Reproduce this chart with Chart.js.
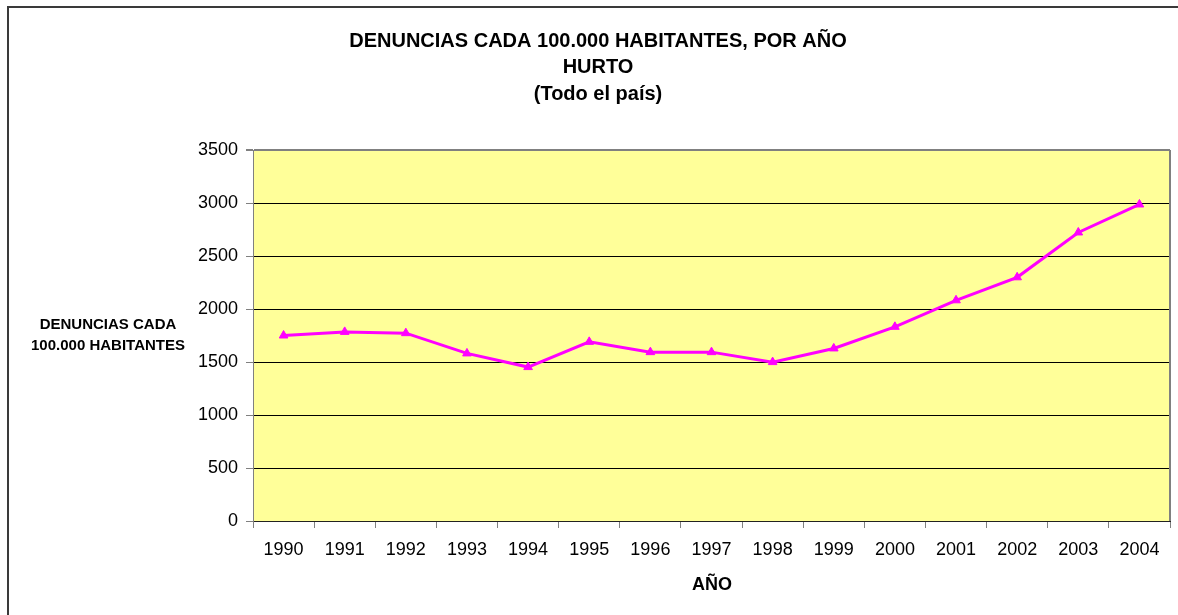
<!DOCTYPE html>
<html>
<head>
<meta charset="utf-8">
<script src="https://cdn.jsdelivr.net/npm/chart.js@4.4.1/dist/chart.umd.min.js"></script>
<style>
  html, body { margin: 0; padding: 0; background: #fff; }
  #wrap { width: 1178px; height: 615px; position: relative; }
</style>
</head>
<body>
<div id="wrap"><canvas id="chart" width="1178" height="615"></canvas></div>
<script>
// data
const years = ['1990', '1991', '1992', '1993', '1994', '1995', '1996', '1997',
  '1998', '1999', '2000', '2001', '2002', '2003', '2004'];
const denuncias = [1750, 1784, 1772, 1581, 1452, 1690, 1593, 1593,
  1499, 1628, 1832, 2082, 2299, 2722, 2986];
const titleLines = ['DENUNCIAS CADA 100.000 HABITANTES, POR AÑO', 'HURTO', '(Todo el país)'];
const yTitleLines = ['DENUNCIAS CADA', '100.000 HABITANTES'];
const xTitle = 'AÑO';

const FONT = "'Liberation Sans', Arial, sans-serif";

// yellow plot background, frame, titles
const decorations = {
  id: 'decorations',
  beforeDraw(chart) {
    const { ctx, chartArea: a } = chart;
    ctx.save();
    ctx.fillStyle = '#FFFF99';
    ctx.fillRect(a.left, a.top, a.right - a.left, a.bottom - a.top);
    ctx.restore();
  },
  afterDraw(chart) {
    const { ctx, chartArea: a } = chart;
    ctx.save();
    // right border of plot
    ctx.strokeStyle = '#808080';
    ctx.lineWidth = 2;
    ctx.beginPath();
    ctx.moveTo(a.right, a.top);
    ctx.lineTo(a.right, a.bottom);
    ctx.stroke();

    // outer frame (only left/top visible in picture)
    ctx.strokeStyle = '#3a3a3a';
    ctx.lineWidth = 2;
    ctx.beginPath();
    ctx.moveTo(8, 620);
    ctx.lineTo(8, 7);
    ctx.lineTo(1180, 7);
    ctx.stroke();

    ctx.fillStyle = '#000';
    ctx.textAlign = 'center';
    ctx.textBaseline = 'alphabetic';
    ctx.font = 'bold 20px ' + FONT;
    const base = [47, 73, 100];
    titleLines.forEach((t, i) => ctx.fillText(t, 598, base[i]));

    ctx.font = 'bold 15px ' + FONT;
    ctx.fillText(yTitleLines[0], 108, 329);
    ctx.fillText(yTitleLines[1], 108, 350);

    ctx.font = 'bold 18px ' + FONT;
    ctx.fillText(xTitle, 712, 590);
    ctx.restore();
  }
};

new Chart(document.getElementById('chart'), {
  type: 'line',
  data: {
    labels: years,
    datasets: [{
      data: denuncias,
      borderColor: '#FF00FF',
      backgroundColor: '#FF00FF',
      borderWidth: 3,
      pointStyle: 'triangle',
      pointRadius: 5,
      pointBorderWidth: 1,
      tension: 0
    }]
  },
  options: {
    responsive: false,
    animation: false,
    layout: { padding: { top: 150, right: 8, left: 0, bottom: 0 } },
    plugins: {
      legend: { display: false },
      title: { display: false },
      tooltip: { enabled: false }
    },
    scales: {
      x: {
        offset: true,
        grid: {
          offset: true,
          drawOnChartArea: false,
          drawTicks: true,
          tickLength: 7,
          tickColor: '#808080'
        },
        border: { color: '#222', width: 1 },
        ticks: {
          color: '#000',
          padding: 11,
          maxRotation: 0,
          autoSkip: false,
          font: { family: FONT, size: 18 }
        },
        afterFit(s) { s.height = 94; }
      },
      y: {
        min: 0,
        max: 3500,
        grid: {
          color: (c) => c.tick && c.tick.value === 3500 ? '#808080' : '#000',
          lineWidth: (c) => c.tick && c.tick.value === 3500 ? 2 : 1,
          tickLength: 7,
          tickColor: '#808080'
        },
        border: { color: '#808080', width: 1 },
        ticks: {
          stepSize: 500,
          color: '#000',
          padding: 8,
          callback: (v) => String(v),
          font: { family: FONT, size: 18 }
        },
        afterFit(s) { s.width = 253; }
      }
    }
  },
  plugins: [decorations]
});
</script>
</body>
</html>
